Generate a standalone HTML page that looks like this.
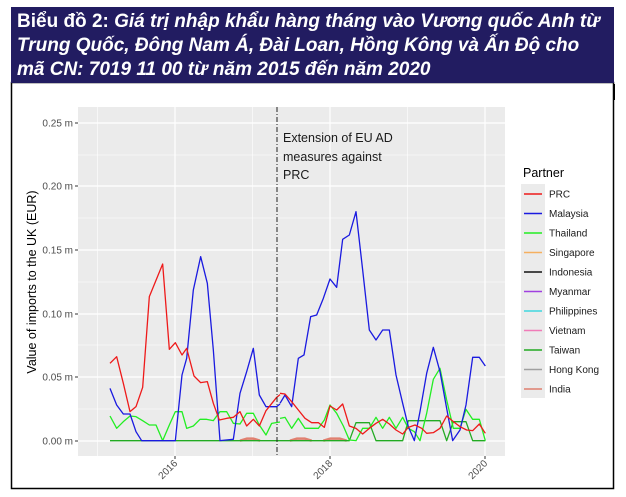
<!DOCTYPE html>
<html><head><meta charset="utf-8"><style>
body{margin:0;background:#fff;}
svg{display:block;font-family:"Liberation Sans",Arial,sans-serif;}
</style></head><body>
<svg width="626" height="497" viewBox="0 0 626 497" xmlns="http://www.w3.org/2000/svg">
<rect width="626" height="497" fill="#fff"/>
<rect x="11.5" y="82.5" width="602" height="406" fill="#fff" stroke="#000" stroke-width="1.5"/>
<line x1="614" y1="84" x2="614" y2="100" stroke="#000" stroke-width="2"/>
<rect x="11" y="7" width="603" height="76" fill="#221c61"/>
<g fill="#fff" font-weight="bold" font-size="19">
<text x="17" y="27">Biểu đồ 2: <tspan font-style="italic">Giá trị nhập khẩu hàng tháng vào Vương quốc Anh từ</tspan></text>
<text x="17" y="51" font-style="italic">Trung Quốc, Đông Nam Á, Đài Loan, Hồng Kông và Ấn Độ cho</text>
<text x="17" y="75" font-style="italic">mã CN: 7019 11 00 từ năm 2015 đến năm 2020</text>
</g>
<!-- panel -->
<rect x="78" y="107" width="427" height="349" fill="#ebebeb"/>
<g stroke="#fff" stroke-width="0.6">
<line x1="78" x2="505" y1="409" y2="409"/><line x1="78" x2="505" y1="345" y2="345"/><line x1="78" x2="505" y1="282" y2="282"/><line x1="78" x2="505" y1="218" y2="218"/><line x1="78" x2="505" y1="155" y2="155"/>
<line x1="97.5" x2="97.5" y1="107" y2="456"/><line x1="252.5" x2="252.5" y1="107" y2="456"/><line x1="407.5" x2="407.5" y1="107" y2="456"/>
</g>
<g stroke="#fff" stroke-width="1.2">
<line x1="78" x2="505" y1="441" y2="441"/><line x1="78" x2="505" y1="377" y2="377"/><line x1="78" x2="505" y1="314" y2="314"/><line x1="78" x2="505" y1="250" y2="250"/><line x1="78" x2="505" y1="186" y2="186"/><line x1="78" x2="505" y1="123" y2="123"/>
<line x1="175" x2="175" y1="107" y2="456"/><line x1="330" x2="330" y1="107" y2="456"/><line x1="485" x2="485" y1="107" y2="456"/>
</g>
<g stroke="#333" stroke-width="1">
<line x1="75" x2="78" y1="441" y2="441"/><line x1="75" x2="78" y1="377" y2="377"/><line x1="75" x2="78" y1="314" y2="314"/><line x1="75" x2="78" y1="250" y2="250"/><line x1="75" x2="78" y1="186" y2="186"/><line x1="75" x2="78" y1="123" y2="123"/>
<line x1="175" x2="175" y1="456" y2="459"/><line x1="330" x2="330" y1="456" y2="459"/><line x1="485" x2="485" y1="456" y2="459"/>
</g>
<g font-size="10" fill="#4d4d4d" text-anchor="end">
<text x="73" y="444.5">0.00 m</text><text x="73" y="380.5">0.05 m</text><text x="73" y="317.5">0.10 m</text><text x="73" y="253.5">0.15 m</text><text x="73" y="189.5">0.20 m</text><text x="73" y="126.5">0.25 m</text>
<text transform="translate(178,464) rotate(-45)">2016</text>
<text transform="translate(333,464) rotate(-45)">2018</text>
<text transform="translate(488,464) rotate(-45)">2020</text>
</g>
<text transform="translate(36,282) rotate(-90)" font-size="12.5" fill="#000" text-anchor="middle">Value of imports to the UK (EUR)</text>
<!-- series -->
<g fill="none" stroke-width="1.3" stroke-linejoin="round">
<g transform="translate(20,100) scale(0.33333)">
<polyline vector-effect="non-scaling-stroke" stroke="#e08070" stroke-width="2.5" points="660,1022 680,1016 700,1016 720,1022"/>
<polyline vector-effect="non-scaling-stroke" stroke="#22aa22" points="270,1022 780,1022"/>
<polyline vector-effect="non-scaling-stroke" stroke="#22ee22" points="270,948 290,985 310,965 330,948 348,950 368,962 388,975 408,975 428,1022 448,975 466,935 486,935 500,985 520,978 540,958 560,958 580,962 600,935 620,935 640,970 660,972 680,940 700,940 718,975 738,1005 755,970 780,966"/>
<polyline vector-effect="non-scaling-stroke" stroke="#1a1ae0" points="270,865 290,915 310,942 330,942 348,995 365,1022 466,1022 486,825 500,775 520,570 542,470 562,550 580,750 600,1022 640,1018 660,880 680,815 700,745 718,885 738,920 770,920 780,912"/>
<polyline vector-effect="non-scaling-stroke" stroke="#ee1a1a" points="270,790 290,770 310,850 330,935 348,920 368,862 388,590 428,492 448,748 466,728 486,765 500,745 522,828 542,848 562,845 580,910 598,960 620,955 640,952 660,935 680,978 700,958 718,978 738,932 770,892 780,884"/>
</g>
<g transform="translate(280,100) scale(0.33333)">
<polyline vector-effect="non-scaling-stroke" stroke="#e08070" stroke-width="2.5" points="30,1022 50,1016 75,1016 95,1022 M0,0"/>
<polyline vector-effect="non-scaling-stroke" stroke="#e08070" stroke-width="2.5" points="130,1022 150,1016 180,1016 200,1022"/>
<polyline vector-effect="non-scaling-stroke" stroke="#22aa22" points="0,1022 208,1022 228,968 268,968 288,1022 368,1022 385,962 480,962 500,1022 520,965 558,965 578,1022 616,1022"/>
<polyline vector-effect="non-scaling-stroke" stroke="#22ee22" points="0,955 15,952 35,985 55,955 75,985 95,985 115,985 133,960 150,915 170,940 190,978 208,1020 228,1022 248,985 268,985 288,952 308,985 328,952 348,985 368,952 385,985 403,995 420,1022 440,940 460,838 480,805 500,900 520,985 540,985 558,928 578,958 598,958 616,1022"/>
<polyline vector-effect="non-scaling-stroke" stroke="#1a1ae0" points="0,910 15,885 35,920 55,775 72,765 92,650 110,645 130,595 150,537 170,562 188,418 208,405 228,335 248,510 268,690 288,720 308,690 328,690 348,825 368,910 385,980 403,1022 420,935 440,820 460,742 480,815 500,925 518,1022 540,990 558,915 578,772 598,772 616,798"/>
<polyline vector-effect="non-scaling-stroke" stroke="#ee1a1a" points="0,880 15,882 35,905 55,930 75,955 95,968 115,968 133,982 150,918 170,930 188,912 208,978 228,985 248,1002 268,985 288,970 308,958 328,972 348,990 368,1002 385,982 405,975 425,985 440,1000 460,998 480,985 500,948 520,965 540,980 560,990 578,992 598,972 616,1000"/>
</g>
</g>
<line x1="277" y1="107" x2="277" y2="456" stroke="#222" stroke-width="1" stroke-dasharray="5,2,1,2"/>
<g font-size="12.5" fill="#1a1a1a">
<text x="283" y="142">Extension of EU AD</text>
<text x="283" y="161">measures against</text>
<text x="283" y="179">PRC</text>
</g>
<!-- legend -->
<text x="523" y="177" font-size="12.5" fill="#000">Partner</text>
<rect x="521" y="184" width="24" height="214" fill="#ebebeb"/>
<g stroke-width="1.5">
<line x1="524" x2="542" y1="194" y2="194" stroke="#ee1a1a"/>
<line x1="524" x2="542" y1="213.5" y2="213.5" stroke="#1a1ae0"/>
<line x1="524" x2="542" y1="233" y2="233" stroke="#22ee22"/>
<line x1="524" x2="542" y1="252.5" y2="252.5" stroke="#f5b060"/>
<line x1="524" x2="542" y1="272" y2="272" stroke="#111"/>
<line x1="524" x2="542" y1="291.5" y2="291.5" stroke="#a040e0"/>
<line x1="524" x2="542" y1="311" y2="311" stroke="#40d8e0"/>
<line x1="524" x2="542" y1="330.5" y2="330.5" stroke="#f07cb8"/>
<line x1="524" x2="542" y1="350" y2="350" stroke="#22aa22"/>
<line x1="524" x2="542" y1="369.5" y2="369.5" stroke="#a0a0a0"/>
<line x1="524" x2="542" y1="389" y2="389" stroke="#e08070"/>
</g>
<g font-size="10" fill="#1a1a1a">
<text x="549" y="197.5">PRC</text>
<text x="549" y="217">Malaysia</text>
<text x="549" y="236.5">Thailand</text>
<text x="549" y="256">Singapore</text>
<text x="549" y="275.5">Indonesia</text>
<text x="549" y="295">Myanmar</text>
<text x="549" y="314.5">Philippines</text>
<text x="549" y="334">Vietnam</text>
<text x="549" y="353.5">Taiwan</text>
<text x="549" y="373">Hong Kong</text>
<text x="549" y="392.5">India</text>
</g>
</svg>
</body></html>
